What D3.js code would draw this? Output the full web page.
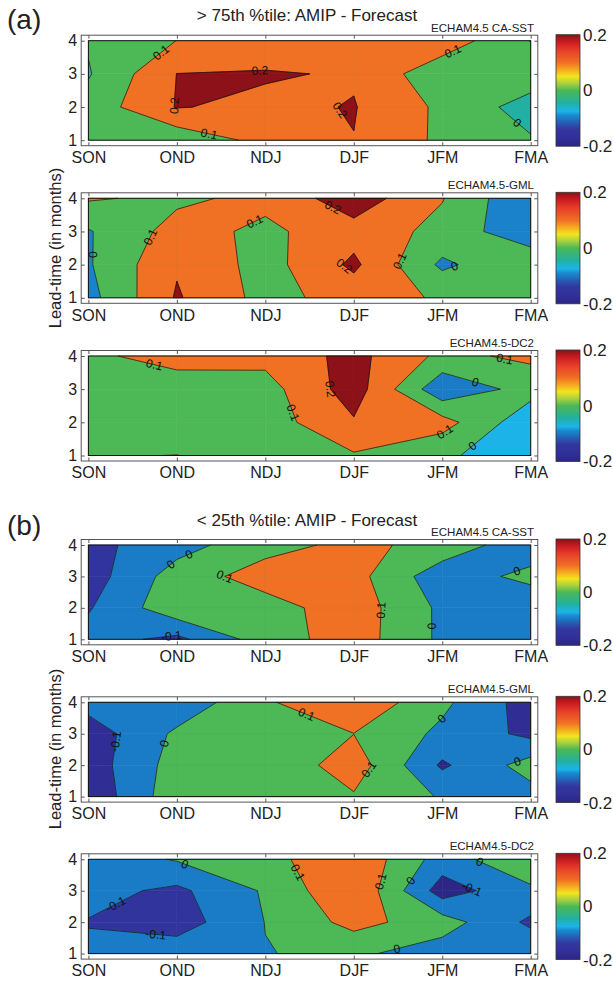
<!DOCTYPE html>
<html>
<head>
<meta charset="utf-8">
<script src="https://cdn.jsdelivr.net/npm/d3@7"></script>
<style>
  body { margin: 0; background: #fff; }
  text { font-family: "Liberation Sans", Arial, sans-serif; }
</style>
</head>
<body>
<div id="chart"></div>
<script>
// seasons along x, lead-time along y
const seasons = ["SON", "OND", "NDJ", "DJF", "JFM", "FMA"];
const leadTimes = [1, 2, 3, 4];
const levels = [-0.1, 0, 0.1, 0.2];

// rows: lead-time 4, 3, 2, 1 (top to bottom); columns follow seasons
const aboveCaSst = [
  [0.01, 0.101, 0.12, 0.16, 0.16, -0.003],
  [-0.008, 0.201, 0.21, 0.19, 0.03, 0.06],
  [0.04, 0.205, 0.177, 0.205, 0.08, -0.045],
  [0.03, 0.03, 0.13, 0.198, 0.08, 0.01]
];
const aboveGml = [
  [0.11, 0.08, 0.1265, 0.256, 0.105, -0.095],
  [-0.008, 0.14, 0.078, 0.162, 0.07, -0.079],
  [-0.01, 0.19, 0.06, 0.22, -0.02, 0.09],
  [-0.034, 0.21, 0.067, 0.14, 0.09, 0.02]
];
const aboveDc2 = [
  [0.08, 0.14, 0.13, 0.231, 0.076, 0.12],
  [0.04, 0.045, 0.06, 0.25, -0.075, 0.039],
  [0.04, 0.05, 0.05, 0.19, 0.14, -0.07],
  [0.095, 0.101, 0.068, 0.09, 0.019, -0.072]
];
const belowCaSst = [
  [-0.13, -0.04, 0.065, 0.125, 0.068, -0.07],
  [-0.149, 0.047, 0.145, 0.136, -0.064, 0.033],
  [-0.109, 0.07, 0.0575, 0.154, -0.021, -0.09],
  [-0.06, -0.125, 0.05, 0.15, -0.02, -0.05]
];
const belowGml = [
  [-0.06, -0.072, 0.088, 0.181, 0.022, -0.147],
  [-0.156, 0.019, 0.06, 0.099, -0.022, -0.126],
  [-0.153, 0.043, 0.019, 0.154, -0.116, 0.044],
  [-0.178, 0.066, 0.05, 0.09, -0.009, -0.041]
];
const belowDc2 = [
  [-0.06, 0.008, 0.065, 0.186, -0.046, 0.08],
  [-0.066, -0.122, 0.012, 0.195, -0.15, -0.02],
  [-0.105, -0.15, 0.002, 0.133, 0.047, -0.121],
  [-0.079, -0.039, -0.003, 0.019, -0.051, -0.01]
];

// contour labels: [season index, lead-time, level] (snapped onto the line)
const aboveCaSstLabels = [[0.81, 3.68, 0.1], [1.94, 3.0, 0.2], [0.89, 2.06, 0.2], [1.36, 1.13, 0.1], [2.84, 1.9, 0.2], [4.13, 3.63, 0.1], [4.84, 1.5, 0]];
const aboveGmlLabels = [[0.07, 2.3, 0], [0.65, 2.9, 0.1], [1.89, 3.25, 0.1], [2.75, 3.65, 0.2], [2.89, 1.94, 0.2], [3.53, 2.1, 0.1], [4.13, 2.0, 0]];
const aboveDc2Labels = [[0.74, 3.68, 0.1], [2.67, 2.98, 0.2], [2.29, 2.27, 0.1], [4.04, 1.67, 0.1], [4.37, 3.18, 0], [4.7, 3.83, 0.1], [4.33, 1.32, 0]];
const belowCaSstLabels = [[0.94, 3.35, 0], [1.14, 3.67, 0], [1.54, 3.0, 0.1], [3.29, 1.93, 0.1], [3.88, 1.42, 0], [4.84, 3.2, 0], [0.94, 1.07, -0.1]];
const belowGmlLabels = [[0.32, 2.75, -0.1], [0.89, 2.66, 0], [2.47, 3.65, 0.1], [3.18, 1.85, 0.1], [3.99, 3.49, 0], [4.85, 2.11, 0]];
const belowDc2Labels = [[1.08, 3.77, 0], [0.32, 2.5, -0.1], [0.76, 1.55, -0.1], [2.31, 3.5, 0.1], [3.31, 3.29, 0.1], [3.66, 3.29, 0], [4.4, 3.77, 0], [4.33, 3.03, -0.1], [3.49, 1.13, 0]];

// colour map (jet-like, as in the colour bars)
const cmapDomain = [-0.2, -0.17, -0.14, -0.12, -0.1, -0.09, -0.075, -0.06, -0.045, -0.025, 0, 0.025, 0.05, 0.075, 0.1, 0.14, 0.17, 0.2];
const cmapRange = ["#2c2684", "#31309a", "#33369e", "#2a55ae", "#1a7cc6", "#1a88d0", "#1cb4e8", "#1eb3c8", "#22b0a2", "#34b47c", "#4cb856",
  "#a8d040", "#f2e51e", "#f6a821", "#f07024", "#e8422a", "#d01f22", "#8c1118"];
const colour = d3.scaleLinear().domain(cmapDomain).range(cmapRange).clamp(true);

const width = 613, height = 982;
const x = d3.scaleLinear().domain([0, 5]).range([88.4, 530.7]);
const boxX = [81.2, 537.8];

const panels = [
  { values: aboveCaSst, labels: aboveCaSstLabels, model: "ECHAM4.5 CA-SST", top: 40.7, h: 99.5 },
  { values: aboveGml, labels: aboveGmlLabels, model: "ECHAM4.5-GML", top: 198.3, h: 99.5 },
  { values: aboveDc2, labels: aboveDc2Labels, model: "ECHAM4.5-DC2", top: 356, h: 99.5 },
  { values: belowCaSst, labels: belowCaSstLabels, model: "ECHAM4.5 CA-SST", top: 545, h: 94.3 },
  { values: belowGml, labels: belowGmlLabels, model: "ECHAM4.5-GML", top: 702.3, h: 94.3 },
  { values: belowDc2, labels: belowDc2Labels, model: "ECHAM4.5-DC2", top: 859.3, h: 94.3 }
];

const svg = d3.select("#chart").append("svg")
  .attr("width", width)
  .attr("height", height);

const grad = svg.append("defs").append("linearGradient")
  .attr("id", "jet").attr("x1", 0).attr("y1", 1).attr("x2", 0).attr("y2", 0);
grad.selectAll("stop").data(cmapDomain).enter().append("stop")
  .attr("offset", d => (d + 0.2) / 0.4)
  .attr("stop-color", d => colour(d));

// point where the level crosses edge i -> i+1 of a cell
function crossing(pts, vs, i, L) {
  const j = (i + 1) % 4, t = (L - vs[i]) / (vs[j] - vs[i]);
  return [pts[i][0] + t * (pts[j][0] - pts[i][0]), pts[i][1] + t * (pts[j][1] - pts[i][1])];
}

// part of a cell above (or below) a level; saddles decided by the cell mean
function cellRegions(pts, vs, L, above) {
  const inside = vs.map(v => above ? v >= L : v < L);
  const n = inside.filter(Boolean).length;
  if (!n) return [];
  if (n === 2 && inside[0] === inside[2]) {
    const m = d3.mean(vs);
    if (!(above ? m >= L : m < L)) {
      return [0, 1, 2, 3].filter(i => inside[i])
        .map(i => ({ corner: i, poly: [pts[i], crossing(pts, vs, i, L), crossing(pts, vs, (i + 3) % 4, L)] }));
    }
  }
  const poly = [];
  let corner = -1;
  for (let i = 0; i < 4; i++) {
    if (inside[i]) { poly.push(pts[i]); if (corner < 0) corner = i; }
    if (inside[i] !== inside[(i + 1) % 4]) poly.push(crossing(pts, vs, i, L));
  }
  return [{ corner, poly }];
}

function cellSegments(pts, vs, L) {
  const hi = vs.map(v => v >= L);
  const edges = [0, 1, 2, 3].filter(i => hi[i] !== hi[(i + 1) % 4]);
  if (edges.length === 2) return [[crossing(pts, vs, edges[0], L), crossing(pts, vs, edges[1], L)]];
  if (edges.length === 4) {
    const hiJoined = d3.mean(vs) >= L;
    return [0, 1, 2, 3].filter(i => hi[i] !== hiJoined)
      .map(i => [crossing(pts, vs, (i + 3) % 4, L), crossing(pts, vs, i, L)]);
  }
  return [];
}

function drawPanel(p) {
  const y = d3.scaleLinear().domain([4, 1]).range([p.top, p.top + p.h]);
  const g = svg.append("g");
  const val = (c, l) => p.values[4 - l][c];
  const flat = p.values.flat();
  const vmin = d3.min(flat), vmax = d3.max(flat);
  const used = levels.filter(L => L > vmin && L <= vmax);
  const line = d3.line().x(d => x(d[0])).y(d => y(d[1]));

  const cells = [];
  for (let c = 0; c < 5; c++) {
    for (let l = 1; l < 4; l++) {
      const pts = [[c, l], [c + 1, l], [c + 1, l + 1], [c, l + 1]];
      cells.push({ pts, vs: pts.map(q => val(q[0], q[1])) });
    }
  }

  // regions below the lowest level: those touching the edge take the minimum's colour,
  // closed depressions take the colour one step below the lowest level
  const L0 = used[0];
  const id = (c, l) => c * 4 + l - 1;
  const parent = d3.range(24);
  const find = i => parent[i] === i ? i : (parent[i] = find(parent[i]));
  const join = (a, b) => { parent[find(a)] = find(b); };
  const low = (c, l) => val(c, l) < L0;
  for (let c = 0; c < 6; c++) {
    for (let l = 1; l <= 4; l++) {
      if (!low(c, l)) continue;
      if (c < 5 && low(c + 1, l)) join(id(c, l), id(c + 1, l));
      if (l < 4 && low(c, l + 1)) join(id(c, l), id(c, l + 1));
    }
  }
  cells.forEach(cell => {
    const lo = cell.vs.map(v => v < L0);
    if (lo[0] === lo[2] && lo[1] === lo[3] && lo[0] !== lo[1] && d3.mean(cell.vs) < L0) {
      const a = lo[0] ? 0 : 1;
      join(id(...cell.pts[a]), id(...cell.pts[a + 2]));
    }
  });
  const compColour = new Map();
  d3.range(24).forEach(i => {
    const c = Math.floor(i / 4), l = i % 4 + 1;
    if (!low(c, l)) return;
    const r = find(i);
    const edge = c === 0 || c === 5 || l === 1 || l === 4;
    if (edge || !compColour.has(r)) compColour.set(r, edge ? colour(vmin) : colour(L0 - 0.1));
  });

  const fills = [];
  cells.forEach(cell => {
    cellRegions(cell.pts, cell.vs, L0, false).forEach(r => {
      fills.push({ poly: r.poly, fill: compColour.get(find(id(...cell.pts[r.corner]))) });
    });
  });
  used.forEach(L => {
    cells.forEach(cell => {
      cellRegions(cell.pts, cell.vs, L, true).forEach(r => fills.push({ poly: r.poly, fill: colour(L) }));
    });
  });

  g.append("g").selectAll("path").data(fills).enter().append("path")
    .attr("d", d => line(d.poly) + "Z")
    .attr("fill", d => d.fill)
    .attr("stroke", d => d.fill)
    .attr("stroke-width", 0.6)
    .attr("stroke-linejoin", "round");

  // contour lines
  const segsByLevel = new Map(used.map(L => [L, d3.merge(cells.map(cell => cellSegments(cell.pts, cell.vs, L)))]));
  g.append("g").selectAll("path").data(used).enter().append("path")
    .attr("d", L => segsByLevel.get(L).map(s => "M" + x(s[0][0]) + "," + y(s[0][1]) + "L" + x(s[1][0]) + "," + y(s[1][1])).join(""))
    .attr("fill", "none")
    .attr("stroke", "#111")
    .attr("stroke-width", 0.7);

  g.append("rect")
    .attr("x", x(0)).attr("y", y(4))
    .attr("width", x(5) - x(0)).attr("height", y(1) - y(4))
    .attr("fill", "none").attr("stroke", "#111").attr("stroke-width", 1);

  // contour labels, snapped to the nearest point of their level's line
  const labelData = p.labels.filter(d => segsByLevel.has(d[2])).map(d => {
    const px = x(d[0]), py = y(d[1]);
    let best = null;
    segsByLevel.get(d[2]).forEach(s => {
      const ax = x(s[0][0]), ay = y(s[0][1]), dx = x(s[1][0]) - ax, dy = y(s[1][1]) - ay;
      const len2 = dx * dx + dy * dy || 1;
      const t = Math.max(0, Math.min(1, ((px - ax) * dx + (py - ay) * dy) / len2));
      const qx = ax + t * dx, qy = ay + t * dy, dist = (qx - px) ** 2 + (qy - py) ** 2;
      if (!best || dist < best.dist) best = { dist, qx, qy, angle: Math.atan2(dy, dx) * 180 / Math.PI };
    });
    let a = best.angle;
    while (a > 90) a -= 180;
    while (a <= -90) a += 180;
    return { text: String(d[2]), x: best.qx, y: best.qy, angle: a };
  });
  g.append("g").selectAll("text").data(labelData).enter().append("text")
    .attr("transform", d => `translate(${d.x},${d.y}) rotate(${d.angle})`)
    .attr("text-anchor", "middle")
    .attr("dy", "0.35em")
    .attr("font-size", "12px")
    .attr("fill", "#111")
    .text(d => d.text);

  // axes box with inward ticks
  const boxTop = p.top - 5.5, boxBottom = p.top + p.h + 5.5;
  g.append("rect")
    .attr("x", boxX[0]).attr("y", boxTop)
    .attr("width", boxX[1] - boxX[0]).attr("height", boxBottom - boxTop)
    .attr("fill", "none").attr("stroke", "#555").attr("stroke-width", 1);

  const styleAxis = sel => {
    sel.select(".domain").remove();
    sel.selectAll("line").attr("stroke", "#555");
    sel.selectAll("text").attr("font-size", "16px").attr("fill", "#222")
      .style("font-family", "'Liberation Sans', Arial, sans-serif");
    sel.attr("font-family", null).attr("font-size", null);
  };
  g.append("g").attr("transform", `translate(0,${boxBottom})`)
    .call(d3.axisBottom(x).tickValues(d3.range(6)).tickFormat(i => seasons[i]).tickSizeInner(-3.5).tickSizeOuter(0).tickPadding(6))
    .call(styleAxis);
  g.append("g").attr("transform", `translate(0,${boxTop})`)
    .call(d3.axisTop(x).tickValues(d3.range(6)).tickFormat("").tickSizeInner(-3.5).tickSizeOuter(0))
    .call(styleAxis);
  g.append("g").attr("transform", `translate(${boxX[0]},0)`)
    .call(d3.axisLeft(y).tickValues(leadTimes).tickFormat(d3.format("d")).tickSizeInner(-3.5).tickSizeOuter(0).tickPadding(4))
    .call(styleAxis);
  g.append("g").attr("transform", `translate(${boxX[1]},0)`)
    .call(d3.axisRight(y).tickValues(leadTimes).tickFormat("").tickSizeInner(-3.5).tickSizeOuter(0))
    .call(styleAxis);

  g.append("text")
    .attr("x", 534).attr("y", boxTop - 3.5)
    .attr("text-anchor", "end")
    .attr("font-size", "11.5px")
    .attr("fill", "#222")
    .text(p.model);

  // colour bar
  const cb = d3.scaleLinear().domain([-0.2, 0.2]).range([boxBottom + 0.5, boxTop - 0.5]);
  g.append("rect")
    .attr("x", 556).attr("y", cb(0.2))
    .attr("width", 24).attr("height", cb(-0.2) - cb(0.2))
    .attr("fill", "url(#jet)").attr("stroke", "#333").attr("stroke-width", 0.8);
  g.append("g").attr("transform", "translate(580,0)")
    .call(d3.axisRight(cb).tickValues([-0.2, 0, 0.2]).tickFormat(d => String(d)).tickSize(0).tickPadding(3))
    .call(sel => {
      sel.select(".domain").remove();
      sel.selectAll("text").attr("font-size", "17px").attr("fill", "#222")
        .style("font-family", "'Liberation Sans', Arial, sans-serif");
      sel.attr("font-family", null).attr("font-size", null);
    });
}

panels.forEach(drawPanel);

// group letters, titles and y label
const heads = [
  { tag: "(a)", title: "> 75th %tile: AMIP - Forecast", tagY: 29, titleY: 21, labelY: 248 },
  { tag: "(b)", title: "< 25th %tile: AMIP - Forecast", tagY: 535, titleY: 526, labelY: 749 }
];
heads.forEach(h => {
  svg.append("text").attr("x", 7).attr("y", h.tagY)
    .attr("font-size", "28px").attr("fill", "#222").text(h.tag);
  svg.append("text").attr("x", 307).attr("y", h.titleY)
    .attr("text-anchor", "middle").attr("font-size", "17px").attr("fill", "#222").text(h.title);
  svg.append("text")
    .attr("transform", `translate(55,${h.labelY}) rotate(-90)`)
    .attr("text-anchor", "middle").attr("dy", "0.35em")
    .attr("font-size", "16.5px").attr("fill", "#222")
    .text("Lead-time (in months)");
});
</script>
</body>
</html>
